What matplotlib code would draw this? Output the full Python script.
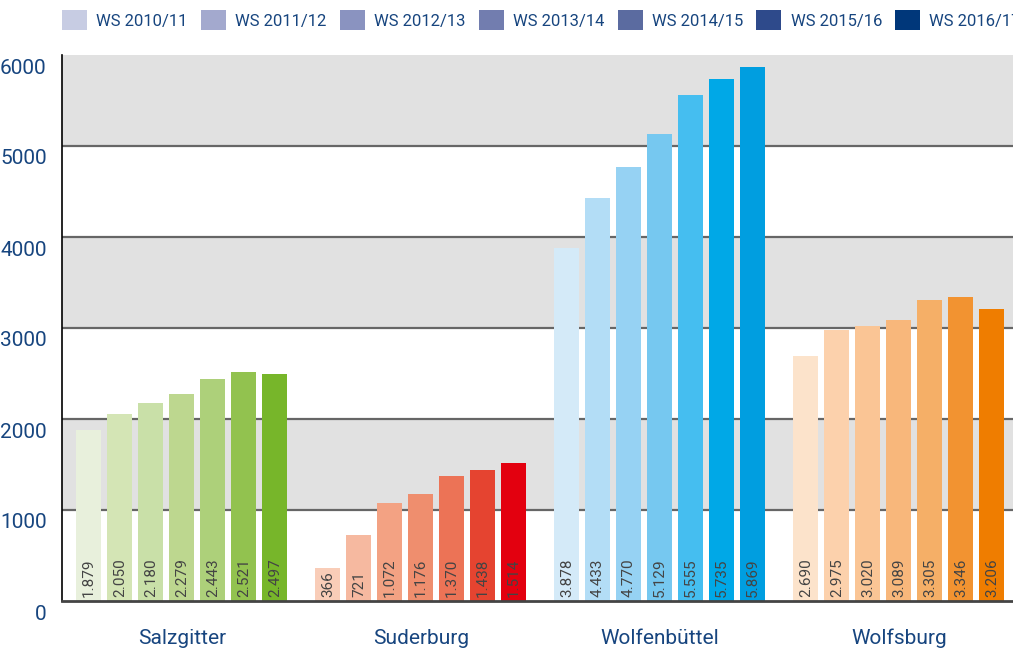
import numpy as np
import matplotlib
matplotlib.use("Agg")
import matplotlib.pyplot as plt
from matplotlib.patches import Patch
from matplotlib.transforms import ScaledTranslation

# data
locations = ["Salzgitter", "Suderburg", "Wolfenbüttel", "Wolfsburg"]
semesters = ["WS 2010/11", "WS 2011/12", "WS 2012/13", "WS 2013/14",
             "WS 2014/15", "WS 2015/16", "WS 2016/17"]
salzgitter = [1879, 2050, 2180, 2279, 2443, 2521, 2497]
suderburg = [366, 721, 1072, 1176, 1370, 1438, 1514]
wolfenbuettel = [3878, 4433, 4770, 5129, 5555, 5735, 5869]
wolfsburg = [2690, 2975, 3020, 3089, 3305, 3346, 3206]
yticks = [0, 1000, 2000, 3000, 4000, 5000, 6000]

# colours
legend_colors = ["#c7cce3", "#a3a9ce", "#8a93c0", "#727daf", "#5b6ba0", "#2e4a8b", "#00377a"]
group_colors = [
    ["#e8f0dc", "#d4e5b5", "#c9e0a8", "#bdd78f", "#add07a", "#92c24f", "#77b62a"],
    ["#f9cdb8", "#f6b9a0", "#f3a283", "#ef8e6e", "#ec7356", "#e54430", "#e3000f"],
    ["#d4eaf8", "#b3ddf6", "#96d2f3", "#76c8f0", "#45bef0", "#00a8e7", "#009ee0"],
    ["#fce3cb", "#fcd1ac", "#fac595", "#f8b77b", "#f5af67", "#f29331", "#ef7d00"],
]
txt_blue = "#17457f"
cond = ["Roboto", "DejaVu Sans"]

fig = plt.figure(figsize=(10.13, 6.48), dpi=100)
ax = fig.add_axes([62 / 1013, 47 / 648, 1 - 62 / 1013, 546 / 648])

# grey bands
for lo in [1000, 3000, 5000]:
    ax.axhspan(lo, lo + 1000, color="#e1e1e1", zorder=0, lw=0)
for y in [1000, 2000, 3000, 4000, 5000]:
    ax.axhline(y, color="#666666", lw=1.6, zorder=1)

step = 31 / 239
width = 25 / 239
data = [salzgitter, suderburg, wolfenbuettel, wolfsburg]
for g, vals in enumerate(data):
    for j, v in enumerate(vals):
        x = g + (j - 3) * step
        ax.bar(x, v, width=width, color=group_colors[g][j], zorder=2)
        lab = f"{v:,}".replace(",", ".")
        ax.text(x, 45, lab, rotation=90, ha="center", va="bottom",
                fontsize=11, color="#444444", family=cond, zorder=3)

ax.set_xlim(-0.502, 3.477)
ax.set_ylim(0, 6000)
ax.set_xticks(range(4))
ax.set_xticklabels(locations, fontsize=15, color=txt_blue, family=cond)
ax.tick_params(axis="x", length=0, pad=20)
ax.set_yticks(yticks)
ax.set_yticklabels([str(t) for t in yticks], fontsize=15, color=txt_blue, family=cond)
ax.tick_params(axis="y", length=0, pad=11)
off = ScaledTranslation(0, -11 / 100, fig.dpi_scale_trans)
for lbl in ax.get_yticklabels():
    lbl.set_transform(lbl.get_transform() + off)

for s in ["top", "right"]:
    ax.spines[s].set_visible(False)
ax.spines["left"].set_color("black")
ax.spines["left"].set_linewidth(1.2)
ax.spines["bottom"].set_color("#444444")
ax.spines["bottom"].set_linewidth(2)

handles = [Patch(facecolor=c, edgecolor="none") for c in legend_colors]
leg = fig.legend(handles, semesters, loc="upper left", bbox_to_anchor=(52 / 1013, 1.0),
                 ncol=7, frameon=False, prop={"family": cond, "size": 12},
                 handlelength=1.5, handleheight=1.5, handletextpad=0.55, columnspacing=0.8,
                 borderaxespad=0.2)
for t in leg.get_texts():
    t.set_color(txt_blue)

fig.savefig("out.png", dpi=100)
